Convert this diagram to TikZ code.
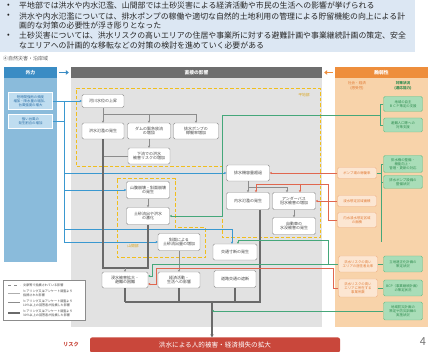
\documentclass[tikz,border=0pt]{standalone}
\usepackage{fontspec}
\setmainfont{Noto Sans CJK JP}
\usetikzlibrary{arrows.meta,calc}
\definecolor{topbg}{HTML}{DCE7F3}
\definecolor{bhead}{HTML}{3A8CC4}
\definecolor{bbody}{HTML}{8ABBDB}
\definecolor{afill}{HTML}{BFDDF0}
\definecolor{atext}{HTML}{2A6EA6}
\definecolor{ghead}{HTML}{6E6E6E}
\definecolor{gbody}{HTML}{E2E2E2}
\definecolor{ohead}{HTML}{EE8E3C}
\definecolor{obody}{HTML}{F8D3AA}
\definecolor{ofill}{HTML}{FCE6D2}
\definecolor{obord}{HTML}{F0B488}
\definecolor{otext}{HTML}{E07A35}
\definecolor{gfill}{HTML}{A9DDB8}
\definecolor{gbord}{HTML}{6DBD86}
\definecolor{gtext}{HTML}{2E8B4E}
\definecolor{ydash}{HTML}{F0BE1E}
\definecolor{ylab}{HTML}{D9A520}
\definecolor{riskred}{HTML}{C9473B}
\definecolor{lgray}{HTML}{8C8C8C}
\definecolor{dgray}{HTML}{6A6A6A}
\definecolor{bline}{HTML}{3A98D0}
\definecolor{tline}{HTML}{45A77A}
\definecolor{rline}{HTML}{E0674F}
\definecolor{txt}{HTML}{444444}
\begin{document}
\begin{tikzpicture}[x=1pt,y=-1pt,
  tip/.style={-{Stealth[length=2.2pt,width=2.2pt]}},
  wbox/.style={draw=lgray, fill=white, rounded corners=1.5pt, line width=0.4pt, align=center, inner sep=0.3pt, font=\fontsize{4}{4.9}\selectfont, text=txt},
  obox/.style={draw=obord, fill=ofill, rounded corners=1.5pt, line width=0.4pt, align=center, inner sep=0.2pt, font=\fontsize{3.4}{4.2}\selectfont, text=otext, minimum width=39pt},
  gbox/.style={draw=gbord, fill=gfill, rounded corners=1.5pt, line width=0.4pt, align=center, inner sep=0.2pt, font=\fontsize{3.4}{4.2}\selectfont, text=gtext, minimum width=39pt},
  abox/.style={draw=white, fill=afill, line width=0.4pt, align=center, inner sep=0.2pt, font=\fontsize{3.4}{4.2}\selectfont, text=atext, minimum width=44pt},
  hd/.style={minimum height=11pt, inner sep=0, text=white, font=\fontsize{4.8}{5}\selectfont\bfseries},
  ttext/.style={anchor=west, inner sep=0, font=\fontsize{7.9}{9}\selectfont, text=black!85},
  gln/.style={draw=lgray, line width=0.6pt},
  garr/.style={gln, tip},
  gthick/.style={draw=dgray, line width=1.4pt},
  bln/.style={draw=bline, line width=0.6pt},
  barr/.style={bln, tip},
  tln/.style={draw=tline, line width=0.6pt},
  tarr/.style={tln, tip},
  rln/.style={draw=rline, line width=0.6pt},
  rarr/.style={rln, tip},
  area/.style={draw=ydash, line width=1pt, dash pattern=on 3.5pt off 2pt},
  lgt/.style={anchor=west, inner sep=0, align=left, font=\fontsize{3.1}{3.7}\selectfont, text=txt}
]
\useasboundingbox (0,0) rectangle (432,352);
\fill[white] (0,0) rectangle (432,352);
% top summary
\fill[topbg] (0,0) rectangle (415,52);
\node[ttext] (u1) at (7,6) {•};
\node[ttext] (u2) at (7,16) {•};
\node[ttext] (u3) at (7,36) {•};
\node[ttext] (t1) at (19,6) {平地部では洪水や内水氾濫、山間部では土砂災害による経済活動や市民の生活への影響が挙げられる};
\node[ttext] (t2) at (19,16) {洪水や内水氾濫については、排水ポンプの稼働や適切な自然的土地利用の管理による貯留機能の向上による計};
\node[ttext] (t2b) at (19,25.5) {画的な対策の必要性が浮き彫りとなった};
\node[ttext] (t3) at (19,36) {土砂災害については、洪水リスクの高いエリアの住居や事業所に対する避難計画や事業継続計画の策定、安全};
\node[ttext] (t3b) at (19,45.5) {なエリアへの計画的な移転などの対策の検討を進めていく必要がある};
\node[anchor=west, inner sep=0, font=\fontsize{5}{6}\selectfont, text=black!65] (sec) at (3,59) {④自然災害・沿岸域};
% column backgrounds
\fill[bbody] (4,78) rectangle (57,262);
\fill[gbody] (71,78) rectangle (322,327);
\fill[obody] (335,78) rectangle (428,327);
\node[hd, fill=bhead, minimum width=53pt] (H1) at (30.5,72.5) {外力};
\node[hd, fill=ghead, minimum width=251pt] (H2) at (196.5,72.5) {直接の影響};
\node[hd, fill=ohead, minimum width=93pt] (H3) at (381.5,72.5) {脆弱性};
\draw[bhead, line width=1.3pt, -{Triangle[length=3pt,width=4.5pt]}, shorten <=2pt, shorten >=2pt] (H1.east) -- (H2.west);
\draw[ohead, line width=1.3pt, -{Triangle[length=3pt,width=4.5pt]}, shorten <=2pt, shorten >=2pt] (H3.west) -- (H2.east);
\node[align=center, inner sep=0, font=\fontsize{3.6}{4.4}\selectfont, text=otext] (S1) at (357,86) {社会・経済\\(感受性)};
\node[align=center, inner sep=0, font=\fontsize{3.6}{4.4}\selectfont\bfseries, text=gtext] (S2) at (403,86) {対策状況\\(適応能力)};
% areas
\draw[area] (76,89) -- (320,89) -- (320,238) -- (222,238) -- (222,167) -- (76,167) -- cycle;
\node[inner sep=0, font=\fontsize{3.8}{4}\selectfont, text=ylab] (L1) at (304,95) {平地部};
\draw[area] (117,179) -- (175,179) -- (175,228) -- (205,228) -- (205,258) -- (117,258) -- cycle;
\node[inner sep=0, font=\fontsize{3.8}{4}\selectfont, text=ylab] (L2) at (133,246) {山間部};
% external force boxes
\node[abox, minimum height=17pt] (A1) at (30.5,101) {短時間強雨の頻度\\増加・降水量の増加、\\台風強度の増大};
\node[abox, minimum height=14pt] (A2) at (30.5,121) {強い台風の\\発生割合の増加};
% direct impact boxes
\node[wbox, minimum width=42pt, minimum height=13pt] (B1) at (103,101) {河川水位の上昇};
\node[wbox, minimum width=42pt, minimum height=16pt] (B2) at (103,131) {洪水氾濫の発生};
\node[wbox, minimum width=43pt, minimum height=16pt] (B3) at (149,131) {ダムの緊急放流\\の増加};
\node[wbox, minimum width=45pt, minimum height=16pt] (B4) at (196,131) {排水ポンプの\\稼働率増加};
\node[wbox, minimum width=42pt, minimum height=16pt] (B5) at (149,156) {下流での洪水\\被害リスクの増加};
\node[wbox, minimum width=43pt, minimum height=17pt] (C1) at (148,190) {山腹崩壊・斜面崩壊\\の発生};
\node[wbox, minimum width=43pt, minimum height=17pt] (C2) at (148,216) {土砂流出や洪水\\の激化};
\node[wbox, minimum width=42pt, minimum height=17pt] (C3) at (179,242) {斜面による\\土砂流出量の増加};
\node[wbox, minimum width=43pt, minimum height=16pt] (D1) at (248,173) {排水機容量超過};
\node[wbox, minimum width=43pt, minimum height=17pt] (D2) at (248,201) {内水氾濫の発生};
\node[wbox, minimum width=43pt, minimum height=17pt] (D3) at (294,201) {アンダーパス\\冠水被害の増加};
\node[wbox, minimum width=43pt, minimum height=17pt] (D4) at (294,226) {自動車の\\水没被害の発生};
\node[wbox, minimum width=44pt, minimum height=16pt] (E1) at (235,252) {交通寸断の発生};
\node[wbox, minimum width=46pt, minimum height=16pt] (E2) at (125,280) {浸水被害拡大・\\避難の困難};
\node[wbox, minimum width=42pt, minimum height=16pt] (E3) at (179,280) {経済活動・\\生活への影響};
\node[wbox, minimum width=42pt, minimum height=17pt] (E4) at (235,279) {道路交通の遮断};
% vulnerability boxes
\node[gbox, minimum height=15pt] (G1) at (403,104) {地域の自主\\ＢＣＰ策定の支援};
\node[gbox, minimum height=14pt] (G2) at (403,125) {避難人口等への\\対策支援};
\node[gbox, minimum height=17pt] (G3) at (403,164) {排水機の整備・\\機能向上・\\管理・更新の対応};
\node[gbox, minimum height=13pt] (G4) at (403,182) {排水ポンプ設備の\\整備状況};
\node[obox, minimum height=11pt] (O1) at (357,173) {ポンプ場の稼働率};
\node[obox, minimum height=11pt] (O2) at (357,201) {浸水想定区域面積};
\node[obox, minimum height=15pt] (O3) at (357,220) {内水浸水想定区域\\の面積};
\node[obox, minimum height=16pt] (O4) at (358,264) {洪水リスクの高い\\エリアの居住者比率};
\node[obox, minimum height=18pt] (O5) at (358,288) {洪水リスクの高い\\エリアに所在する\\事業所数};
\node[gbox, minimum height=16pt] (G5) at (403,264) {立地適正化計画の\\策定状況};
\node[gbox, minimum height=16pt] (G6) at (403,288) {BCP（事業継続計画）\\の策定状況};
\node[gbox, minimum height=18pt] (G7) at (403,311) {地域防災計画の\\策定や防災訓練の\\実施状況};
% blue connectors
\coordinate (btop) at (64,101);
\coordinate (bbot) at (64,242);
\coordinate (be1) at (232,229);
\draw[barr] (A1.east) -- (B1.west);
\draw[bln] (A2.east) -- (A2.east -| btop);
\draw[bln] (btop) -- (bbot);
\draw[barr] (D1.west -| btop) -- (D1.west);
\draw[barr] (C1.west -| btop) -- (C1.west);
\draw[barr] (C3.west -| btop) -- (C3.west);
\draw[barr] (be1 -| btop) -- (be1) -- (be1 |- E1.north);
% gray connectors
\coordinate (gb1) at (103,114);
\draw[gln] (B1.south) -- (gb1) -- (gb1 -| B4);
\draw[garr] (gb1) -- (B2.north);
\draw[garr] (gb1 -| B3) -- (B3.north);
\draw[garr] (gb1 -| B4) -- (B4.north);
\draw[garr] (B3.south) -- (B5.north);
\draw[gln] (B5.west) -- (B5.west -| B2);
\draw[garr] (C1.south) -- (C2.north);
\draw[garr] (C3.south) -- (E3.north);
\coordinate (uL) at (103,268);
\coordinate (uR) at (148,268);
\draw[gthick] (B2.south) -- (uL) -- (uR) -- (C2.south);
\draw[garr, line width=0.8pt] (uL -| E2) -- (E2.north);
\draw[garr] (D1.south) -- (D2.north);
\coordinate (db) at (248,187);
\coordinate (db2) at (287,187);
\draw[garr] (db) -- (db2) -- (db2 |- D3.north);
\draw[garr] (D3.south) -- (D4.north);
\coordinate (bus) at (260,302);
\coordinate (rk) at (212,302);
\draw[gthick] (bus |- D2.south) -- (bus) -- (bus -| E2);
\draw[gthick] (E2.south) -- (E2.south |- bus);
\draw[gthick] (E3.south) -- (E3.south |- bus);
\draw[gthick] (E4.south) -- (E4.south |- bus);
% risk
\node[fill=riskred, rounded corners=2pt, minimum width=250pt, minimum height=15pt, inner sep=0, text=white, font=\fontsize{6.6}{7}\selectfont] (R) at (215,345) {洪水による人的被害・経済損失の拡大};
\draw[gthick, -{Stealth[length=3pt,width=3.5pt]}] (rk) -- (rk |- R.north);
\node[inner sep=0, font=\fontsize{5.2}{6}\selectfont\bfseries, text=riskred] (RL) at (71,345) {リスク};
\node[inner sep=0, font=\fontsize{11}{12}\selectfont, text=black!55] (PG) at (423,342) {4};
% green/teal connectors
\coordinate (tb) at (380,115);
\coordinate (tc) at (222,115);
\draw[tln] (G1.west) -- (G1.west -| tb) -- (G2.west -| tb) -- (G2.west);
\draw[tarr] (tb) -- (tc) -- (tc |- C2.east) -- (C2.east);
\coordinate (gbt) at (381,164);
\coordinate (gbb) at (381,242);
\draw[tln] (G3.west) -- (gbt) -- (gbb);
\draw[tln] (G4.west) -- (G4.west -| gbt);
\draw[tln] (O1.east) -- (O1.east -| gbt);
\draw[tln] (O4.east) -- (G5.west);
\draw[tln] (O5.east) -- (G6.west);
\coordinate (tv) at (152,264);
\coordinate (e2a) at ($(E2.east)+(0,-4)$);
\coordinate (tk) at (328,264);
\coordinate (tk2) at (328,240);
\coordinate (tk3) at (238,240);
\draw[tarr] (O4.west) -- (tv) -- (tv |- e2a) -- (e2a);
\draw[tarr] (tk) -- (tk2) -- (tk3) -- (tk3 |- E1.north);
\draw[tarr] (G7.west) -- (G7.west -| rk);
% red connectors
\draw[rarr] (O1.west) -- (D1.east);
\draw[rarr] (O2.west) -- (D3.east);
\coordinate (r1) at (328,184);
\coordinate (r2) at (256,184);
\coordinate (r3) at (300,184);
\draw[rarr] (O3.west) -- (O3.west -| r1) -- (r1) -- (r2) -- (r2 |- D2.north);
\draw[rarr] (r3) -- (r3 |- D3.north);
\coordinate (q1) at (333,268);
\coordinate (q2) at (156,268);
\coordinate (e2b) at ($(E2.east)+(0,4)$);
\draw[rarr] (O5.west) -- (O5.west -| q1) -- (q1) -- (q2) -- (q2 |- e2b) -- (e2b);
% legend
\draw[lgray, fill=white, line width=0.4pt] (3,280) rectangle (85,320);
\draw[lgray, dashed, line width=0.5pt] (8,285) -- (20,285);
\draw[lgray!70, line width=0.5pt] (8,293) -- (20,293);
\draw[lgray, line width=1pt] (8,303) -- (20,303);
\draw[dgray, line width=1.6pt] (8,313) -- (20,313);
\node[lgt] (lg1) at (23,285) {文献等で指摘されている影響};
\node[lgt] (lg2) at (23,293) {ヒアリング又はアンケート調査より\\指摘された影響};
\node[lgt] (lg3) at (23,303) {ヒアリング又はアンケート調査より\\10％以上の回答者が指摘した影響};
\node[lgt] (lg4) at (23,313) {ヒアリング又はアンケート調査より\\30％以上の回答者が指摘した影響};
\end{tikzpicture}
\end{document}
